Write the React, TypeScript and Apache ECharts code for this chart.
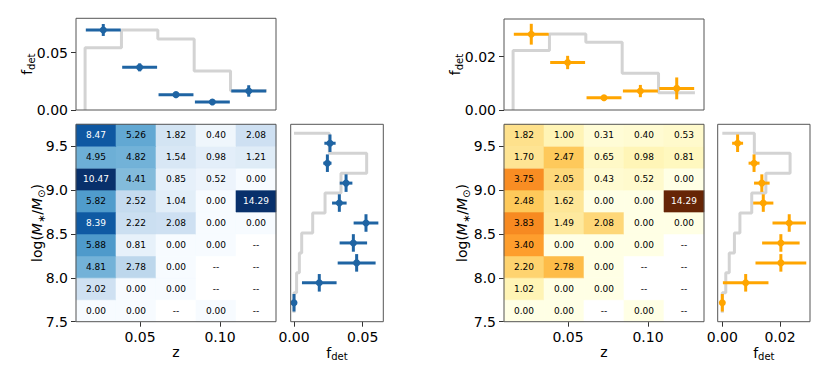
import React, { useEffect, useRef } from "react";
import * as echarts from "echarts";

// ---- bins ----
const zEdges = [0.01, 0.035, 0.06, 0.085, 0.11, 0.135];
const zCenters = [0.0225, 0.0475, 0.0725, 0.0975, 0.1225];
const massEdges = [7.5, 7.75, 8.0, 8.25, 8.5, 8.75, 9.0, 9.25, 9.5, 9.75];
const massCenters = [7.625, 7.875, 8.125, 8.375, 8.625, 8.875, 9.125, 9.375, 9.625];

// ---- heat maps (rows: mass bins bottom->top, cols: z bins), null = masked ("--") ----
const heatBlue: (number | null)[][] = [
  [0.0, 0.0, null, 0.0, null],
  [2.02, 0.0, 0.0, null, null],
  [4.81, 2.78, 0.0, null, null],
  [5.88, 0.81, 0.0, 0.0, null],
  [8.39, 2.22, 2.08, 0.0, 0.0],
  [5.82, 2.52, 1.04, 0.0, 14.29],
  [10.47, 4.41, 0.85, 0.52, 0.0],
  [4.95, 4.82, 1.54, 0.98, 1.21],
  [8.47, 5.26, 1.82, 0.4, 2.08],
];
const heatOrange: (number | null)[][] = [
  [0.0, 0.0, null, 0.0, null],
  [1.02, 0.0, 0.0, null, null],
  [2.2, 2.78, 0.0, null, null],
  [3.4, 0.0, 0.0, 0.0, null],
  [3.83, 1.49, 2.08, 0.0, 0.0],
  [2.48, 1.62, 0.0, 0.0, 14.29],
  [3.75, 2.05, 0.43, 0.52, 0.0],
  [1.7, 2.47, 0.65, 0.98, 0.81],
  [1.82, 1.0, 0.31, 0.4, 0.53],
];

// ---- top panels: f_det vs z ----
const topFdetBlue = [0.0698, 0.0372, 0.0134, 0.007, 0.0166];
const topErrBlue = [0.0052, 0.0035, 0.001, 0.0008, 0.005];
const topRefBlue = [0.0544, 0.0698, 0.062, 0.034, 0.0168];
const topFdetOrange = [0.0284, 0.0178, 0.0046, 0.0071, 0.0081];
const topErrOrange = [0.0039, 0.0025, 0.001, 0.0023, 0.0041];
const topRefOrange = [0.0223, 0.0285, 0.0254, 0.0138, 0.0065];
const topZErr = 0.012;

// ---- side panels: f_det vs mass (bottom->top) ----
const sideFdetBlue = [0.0, 0.0184, 0.0456, 0.0432, 0.0524, 0.033, 0.0379, 0.0243, 0.0262];
const sideErrBlue = [0.0005, 0.0126, 0.0138, 0.01, 0.009, 0.0053, 0.0046, 0.003, 0.0041];
const sideRefBlue = [0.0, 0.0019, 0.0039, 0.0056, 0.0136, 0.0226, 0.0342, 0.0529, 0.0257];
const sideFdetOrange = [0.0, 0.0081, 0.0203, 0.0203, 0.0232, 0.0142, 0.0137, 0.011, 0.0053];
const sideErrOrange = [0.0003, 0.0079, 0.0088, 0.0065, 0.0058, 0.0035, 0.0027, 0.0019, 0.0019];
const sideRefOrange = [0.0, 0.0012, 0.0024, 0.0042, 0.0061, 0.0102, 0.0151, 0.0235, 0.0111];
const sideMassErr = 0.11;

// ---- tick labels ----
const heatXTicks = [0.05, 0.1];
const heatYTicks = [7.5, 8.0, 8.5, 9.0, 9.5];
const topYTicksBlue = [0, 0.05];
const topYTicksOrange = [0, 0.02];
const sideXTicksBlue = [0, 0.05];
const sideXTicksOrange = [0, 0.02];

const FONT = "DejaVu Sans";
const BLUES = ["#f7fbff", "#deebf7", "#c6dbef", "#9ecae1", "#6baed6", "#4292c6", "#2171b5", "#08519c", "#08306b"];
const YLORBR = ["#ffffe5", "#fff7bc", "#fee391", "#fec44f", "#fe9929", "#ec7014", "#cc4c02", "#993404", "#662506"];

function hexToRgb(h: string) {
  return [parseInt(h.slice(1, 3), 16), parseInt(h.slice(3, 5), 16), parseInt(h.slice(5, 7), 16)];
}
function cmap(stops: string[], t: number) {
  const tt = Math.max(0, Math.min(1, t)) * (stops.length - 1);
  const i = Math.min(Math.floor(tt), stops.length - 2);
  const f = tt - i;
  const a = hexToRgb(stops[i]);
  const b = hexToRgb(stops[i + 1]);
  const c = a.map((v, k) => Math.round(v + (b[k] - v) * f));
  return `rgb(${c[0]},${c[1]},${c[2]})`;
}

const richName = {
  n: { fontFamily: FONT, fontSize: 14, lineHeight: 18, verticalAlign: "middle", color: "#000" },
  i: { fontFamily: FONT, fontSize: 14, lineHeight: 18, verticalAlign: "middle", fontStyle: "italic", color: "#000" },
  s: { fontFamily: FONT, fontSize: 10, lineHeight: 10, verticalAlign: "bottom", color: "#000" },
};
const nameStyle = { fontFamily: FONT, fontSize: 14, color: "#000", rich: richName };
const FDET = "{n|f}{s|det}";
const LOGM = "{n|log(}{i|M}{s|∗}{n|/}{i|M}{s|⊙}{n|)}";

function axis(gridIndex: number, min: number, max: number, ticks: number[] | null, digits: number, extra: any = {}) {
  return {
    type: "value",
    gridIndex,
    min,
    max,
    axisLine: { show: false, onZero: false },
    splitLine: { show: false },
    axisTick: ticks
      ? { show: true, inside: false, length: 5, customValues: ticks, lineStyle: { color: "#333", width: 1 } }
      : { show: false },
    axisLabel: ticks
      ? {
          show: true,
          customValues: ticks,
          formatter: (v: number) => v.toFixed(digits),
          fontFamily: FONT,
          fontSize: 14,
          color: "#000",
          margin: 8,
        }
      : { show: false },
    nameMoveOverlap: false,
    ...extra,
  };
}

function stepTop(ref: number[]) {
  const pts: number[][] = [[zEdges[0], 0]];
  ref.forEach((v, i) => {
    pts.push([zEdges[i], v]);
    pts.push([zEdges[i + 1], v]);
  });
  return pts;
}
function stepSide(ref: number[]) {
  const n = ref.length;
  const pts: number[][] = [[0, massEdges[n]]];
  for (let i = n - 1; i >= 0; i--) {
    pts.push([ref[i], massEdges[i + 1]]);
    pts.push([ref[i], massEdges[i]]);
  }
  return pts;
}

function errSeries(idx: number, data: number[][], color: string) {
  return {
    type: "custom",
    xAxisIndex: idx,
    yAxisIndex: idx,
    silent: true,
    z: 4,
    clip: false,
    encode: { x: 0, y: 1 },
    data,
    renderItem: (_p: any, api: any) => {
      const x = api.value(0), y = api.value(1), xe = api.value(2), ye = api.value(3);
      const c = api.coord([x, y]);
      const l = api.coord([x - xe, y]);
      const r = api.coord([x + xe, y]);
      const t = api.coord([x, y + ye]);
      const b = api.coord([x, y - ye]);
      return {
        type: "group",
        children: [
          { type: "line", shape: { x1: l[0], y1: l[1], x2: r[0], y2: r[1] }, style: { stroke: color, lineWidth: 3 } },
          { type: "line", shape: { x1: t[0], y1: t[1], x2: b[0], y2: b[1] }, style: { stroke: color, lineWidth: 3 } },
          { type: "circle", shape: { cx: c[0], cy: c[1], r: 3.5 }, style: { fill: color } },
        ],
      };
    },
  };
}

function heatSeries(idx: number, heat: (number | null)[][], stops: string[], vmax: number) {
  const cells: { r: number; c: number; v: number | null }[] = [];
  heat.forEach((row, r) => row.forEach((v, c) => cells.push({ r, c, v })));
  return {
    type: "custom",
    xAxisIndex: idx,
    yAxisIndex: idx,
    silent: true,
    z: 2,
    encode: { x: 0, y: 1 },
    data: cells.map((cell) => [zCenters[cell.c], massCenters[cell.r]]),
    renderItem: (params: any, api: any) => {
      const cell = cells[params.dataIndex];
      const p0 = api.coord([zEdges[cell.c], massEdges[cell.r + 1]]);
      const p1 = api.coord([zEdges[cell.c + 1], massEdges[cell.r]]);
      const masked = cell.v === null;
      const t = masked ? 0 : (cell.v as number) / vmax;
      const fill = masked ? "#ffffff" : cmap(stops, t);
      const txtColor = !masked && t > 0.7 ? "#ffffff" : "#000000";
      return {
        type: "group",
        children: [
          {
            type: "rect",
            shape: { x: p0[0], y: p0[1], width: p1[0] - p0[0], height: p1[1] - p0[1] },
            style: { fill, stroke: fill, lineWidth: 0.6 },
          },
          {
            type: "text",
            style: {
              text: masked ? "--" : (cell.v as number).toFixed(2),
              x: (p0[0] + p1[0]) / 2,
              y: (p0[1] + p1[1]) / 2,
              align: "center",
              verticalAlign: "middle",
              fill: txtColor,
              fontFamily: FONT,
              fontSize: 9,
            },
          },
        ],
      };
    },
  };
}

function stepSeries(idx: number, data: number[][]) {
  return {
    type: "line",
    xAxisIndex: idx,
    yAxisIndex: idx,
    silent: true,
    z: 1,
    symbol: "none",
    data,
    lineStyle: { color: "#d3d3d3", width: 3 },
  };
}

function grid(left: number, top: number, width: number, height: number) {
  return {
    left,
    top,
    width,
    height,
    show: true,
    borderColor: "#555",
    borderWidth: 1,
    backgroundColor: "rgba(0,0,0,0)",
    z: 10,
    outerBoundsMode: "none",
    containLabel: false,
  };
}

function buildOption() {
  const grids = [
    grid(76, 18.3, 200, 91.7),
    grid(76, 124.3, 200, 197.4),
    grid(290.7, 124.3, 92.6, 197.4),
    grid(504, 19, 200, 91),
    grid(504, 124.3, 200, 197.4),
    grid(717.7, 124.3, 92.3, 197.4),
  ];
  const xAxes = [
    axis(0, 0.00375, 0.14125, null, 2),
    axis(1, 0.01, 0.135, heatXTicks, 2, { name: "z", nameLocation: "middle", nameGap: 23, nameTextStyle: nameStyle }),
    axis(2, -0.0024, 0.065, sideXTicksBlue, 2, { name: FDET, nameLocation: "middle", nameGap: 22, nameTextStyle: nameStyle }),
    axis(3, 0.00375, 0.14125, null, 2),
    axis(4, 0.01, 0.135, heatXTicks, 2, { name: "z", nameLocation: "middle", nameGap: 23, nameTextStyle: nameStyle }),
    axis(5, -0.0016, 0.0304, sideXTicksOrange, 2, { name: FDET, nameLocation: "middle", nameGap: 22, nameTextStyle: nameStyle }),
  ];
  const yAxes = [
    axis(0, 0, 0.08, topYTicksBlue, 2, { name: FDET, nameLocation: "middle", nameGap: 40, nameTextStyle: nameStyle }),
    axis(1, 7.5, 9.75, heatYTicks, 1, { name: LOGM, nameLocation: "middle", nameGap: 30, nameTextStyle: nameStyle }),
    axis(2, 7.3875, 9.8625, null, 1),
    axis(3, 0, 0.0341, topYTicksOrange, 2, { name: FDET, nameLocation: "middle", nameGap: 40, nameTextStyle: nameStyle }),
    axis(4, 7.5, 9.75, heatYTicks, 1, { name: LOGM, nameLocation: "middle", nameGap: 33, nameTextStyle: nameStyle }),
    axis(5, 7.3875, 9.8625, null, 1),
  ];
  const BLUE = "#1f64a3";
  const ORANGE = "#ffa500";
  const series = [
    stepSeries(0, stepTop(topRefBlue)),
    errSeries(0, zCenters.map((z, i) => [z, topFdetBlue[i], topZErr, topErrBlue[i]]), BLUE),
    heatSeries(1, heatBlue, BLUES, 10),
    stepSeries(2, stepSide(sideRefBlue)),
    errSeries(2, massCenters.map((m, i) => [sideFdetBlue[i], m, sideErrBlue[i], sideMassErr]), BLUE),
    stepSeries(3, stepTop(topRefOrange)),
    errSeries(3, zCenters.map((z, i) => [z, topFdetOrange[i], topZErr, topErrOrange[i]]), ORANGE),
    heatSeries(4, heatOrange, YLORBR, 7),
    stepSeries(5, stepSide(sideRefOrange)),
    errSeries(5, massCenters.map((m, i) => [sideFdetOrange[i], m, sideErrOrange[i], sideMassErr]), ORANGE),
  ];
  return {
    animation: false,
    backgroundColor: "#ffffff",
    textStyle: { fontFamily: FONT },
    grid: grids,
    xAxis: xAxes,
    yAxis: yAxes,
    series,
  };
}

export default function App() {
  const ref = useRef<HTMLDivElement>(null);
  useEffect(() => {
    document.body.style.margin = "0";
    const chart = echarts.init(ref.current as HTMLDivElement, undefined, { renderer: "svg", width: 830, height: 381 });
    chart.setOption(buildOption() as any);
    return () => chart.dispose();
  }, []);
  return <div ref={ref} style={{ width: 830, height: 381 }} />;
}
